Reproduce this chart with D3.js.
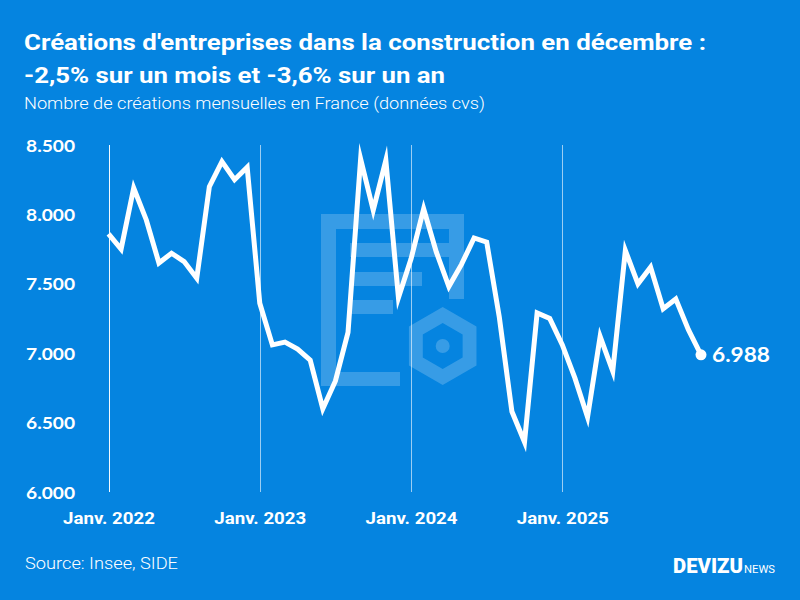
<!DOCTYPE html>
<html>
<head>
<meta charset="utf-8">
<script src="https://cdn.jsdelivr.net/npm/d3@7"></script>
<style>
  html, body { margin: 0; padding: 0; background: #0584e0; }
  svg { display: block; }
</style>
</head>
<body>
<svg id="chart" width="800" height="600"></svg>
<script>
// ---- Data ----
const months = [
  "2022-01","2022-02","2022-03","2022-04","2022-05","2022-06","2022-07","2022-08","2022-09","2022-10","2022-11","2022-12",
  "2023-01","2023-02","2023-03","2023-04","2023-05","2023-06","2023-07","2023-08","2023-09","2023-10","2023-11","2023-12",
  "2024-01","2024-02","2024-03","2024-04","2024-05","2024-06","2024-07","2024-08","2024-09","2024-10","2024-11","2024-12",
  "2025-01","2025-02","2025-03","2025-04","2025-05","2025-06","2025-07","2025-08","2025-09","2025-10","2025-11","2025-12"
];
const creations = [
  7860, 7750, 8190, 7960, 7650, 7720, 7660, 7540, 8200, 8380, 8250, 8340,
  7360, 7060, 7080, 7030, 6950, 6600, 6800, 7150, 8400, 8030, 8390, 7400,
  7680, 8040, 7730, 7480, 7640, 7830, 7800, 7260, 6580, 6360, 7290, 7250,
  7060, 6820, 6540, 7120, 6870, 7740, 7500, 7620, 7320, 7390, 7170, 6988
];
const yTicks = [6000, 6500, 7000, 7500, 8000, 8500];
const xTickMonths = ["2022-01", "2023-01", "2024-01", "2025-01"];
const xTickLabels = ["Janv. 2022", "Janv. 2023", "Janv. 2024", "Janv. 2025"];
const title1 = "Créations d'entreprises dans la construction en décembre :";
const title2 = "-2,5% sur un mois et -3,6% sur un an";
const subtitle = "Nombre de créations mensuelles en France (données cvs)";
const source = "Source: Insee, SIDE";
const lastLabel = "6.988";

// ---- Setup ----
const svg = d3.select("#chart");
const W = 800, H = 600;
svg.append("rect").attr("width", W).attr("height", H).attr("fill", "#0584e0");

const x = d3.scaleLinear().domain([0, months.length - 1]).range([108.5, 701]);
const y = d3.scaleLinear().domain([6000, 8500]).range([492, 145]);
const fmt = v => d3.format(",")(v).replace(/,/g, ".");

// ---- Watermark logo ----
const wm = svg.append("g").attr("fill", "#ffffff").attr("fill-opacity", 0.2);
wm.append("path").attr("d",
  "M321,214 H464 V299 H449 V229 H336 V372 H400 V386 H321 Z");
wm.append("rect").attr("x", 350).attr("y", 243).attr("width", 99).attr("height", 14);
wm.append("rect").attr("x", 350).attr("y", 272).attr("width", 72).attr("height", 14);
wm.append("rect").attr("x", 350).attr("y", 300).attr("width", 43).attr("height", 14);
const hc = [442.7, 346], rO = 39, rI = 23;
const hex = r => d3.range(6).map(i => {
  const a = -Math.PI / 2 + i * Math.PI / 3;
  return [hc[0] + r * Math.cos(a), hc[1] + r * Math.sin(a)];
});
const hpath = pts => "M" + pts.map(p => p.join(",")).join("L") + "Z";
wm.append("path").attr("fill-rule", "evenodd").attr("d", hpath(hex(rO)) + hpath(hex(rI).reverse()));
wm.append("circle").attr("cx", hc[0]).attr("cy", hc[1]).attr("r", 7);

// ---- Gridlines (vertical, yearly) ----
const gx = svg.append("g");
xTickMonths.forEach((m, i) => {
  const xi = x(months.indexOf(m));
  gx.append("line")
    .attr("x1", Math.round(xi) + 0.5).attr("x2", Math.round(xi) + 0.5)
    .attr("y1", y(8500)).attr("y2", y(6000))
    .attr("stroke", "#ffffff")
    .attr("stroke-opacity", i === 0 ? 0.95 : 0.6)
    .attr("stroke-width", 1);
});

// ---- Y axis labels ----
const yAxis = d3.axisLeft(y).tickValues(yTicks).tickFormat(fmt).tickSize(0).tickPadding(0);
const ya = svg.append("g").attr("transform", "translate(75,0)").call(yAxis);
ya.select(".domain").remove();
ya.selectAll("text")
  .attr("fill", "#ffffff")
  .attr("font-family", "Lato, 'Open Sans', sans-serif")
  .attr("font-weight", 700)
  .attr("font-size", 17.5)
  .attr("dy", "0.35em")
  .attr("textLength", 49)
  .attr("lengthAdjust", "spacingAndGlyphs");

// ---- X axis labels ----
const xAxis = d3.axisBottom(x)
  .tickValues(xTickMonths.map(m => months.indexOf(m)))
  .tickFormat((d, i) => xTickLabels[i]).tickSize(0).tickPadding(0);
const xa = svg.append("g").attr("transform", "translate(0,524)").call(xAxis);
xa.select(".domain").remove();
xa.selectAll("text")
  .attr("fill", "#ffffff")
  .attr("font-family", "Roboto, sans-serif")
  .attr("font-weight", 700)
  .attr("font-size", 16.5)
  .attr("dy", 0)
  .attr("textLength", 92)
  .attr("lengthAdjust", "spacingAndGlyphs");

// ---- Line ----
const line = d3.line().x((d, i) => x(i)).y(d => y(d));
svg.append("path")
  .datum(creations)
  .attr("d", line)
  .attr("fill", "none")
  .attr("stroke", "#ffffff")
  .attr("stroke-width", 5)
  .attr("stroke-linejoin", "miter")
  .attr("stroke-miterlimit", 10);

const li = creations.length - 1;
svg.append("circle")
  .attr("cx", x(li)).attr("cy", y(creations[li])).attr("r", 5.5)
  .attr("fill", "#ffffff");
svg.append("text")
  .attr("x", x(li) + 11).attr("y", y(creations[li]))
  .attr("dy", "0.36em")
  .attr("fill", "#ffffff")
  .attr("font-family", "Lato, 'Open Sans', sans-serif")
  .attr("font-weight", 700)
  .attr("font-size", 20.5)
  .attr("textLength", 58)
  .attr("lengthAdjust", "spacingAndGlyphs")
  .text(lastLabel);

// ---- Titles ----
svg.append("text")
  .attr("x", 24).attr("y", 50)
  .attr("fill", "#ffffff")
  .attr("font-family", "Roboto, sans-serif")
  .attr("font-weight", 700)
  .attr("font-size", 22)
  .attr("textLength", 682)
  .attr("lengthAdjust", "spacingAndGlyphs")
  .text(title1);
svg.append("text")
  .attr("x", 24).attr("y", 83)
  .attr("fill", "#ffffff")
  .attr("font-family", "Roboto, sans-serif")
  .attr("font-weight", 700)
  .attr("font-size", 22)
  .attr("textLength", 421)
  .attr("lengthAdjust", "spacingAndGlyphs")
  .text(title2);
svg.append("text")
  .attr("x", 24).attr("y", 109)
  .attr("fill", "#ffffff")
  .attr("font-family", "Roboto, sans-serif")
  .attr("font-weight", 300)
  .attr("font-size", 16)
  .attr("textLength", 461)
  .attr("lengthAdjust", "spacingAndGlyphs")
  .text(subtitle);

// ---- Source ----
svg.append("text")
  .attr("x", 25).attr("y", 569)
  .attr("fill", "#ffffff")
  .attr("font-family", "Roboto, sans-serif")
  .attr("font-weight", 300)
  .attr("font-size", 16.5)
  .attr("textLength", 153)
  .attr("lengthAdjust", "spacingAndGlyphs")
  .text(source);

// ---- Brand ----
const brand = svg.append("text")
  .attr("x", 673).attr("y", 573)
  .attr("fill", "#ffffff")
  .attr("font-family", "Roboto, sans-serif");
brand.append("tspan")
  .attr("font-weight", 900)
  .attr("font-size", 20.5)
  .attr("textLength", 70)
  .attr("lengthAdjust", "spacingAndGlyphs")
  .text("DEVIZU");
brand.append("tspan")
  .attr("font-weight", 400)
  .attr("font-size", 10)
  .attr("dx", 1)
  .attr("textLength", 31)
  .attr("lengthAdjust", "spacingAndGlyphs")
  .text("NEWS");
</script>
</body>
</html>
